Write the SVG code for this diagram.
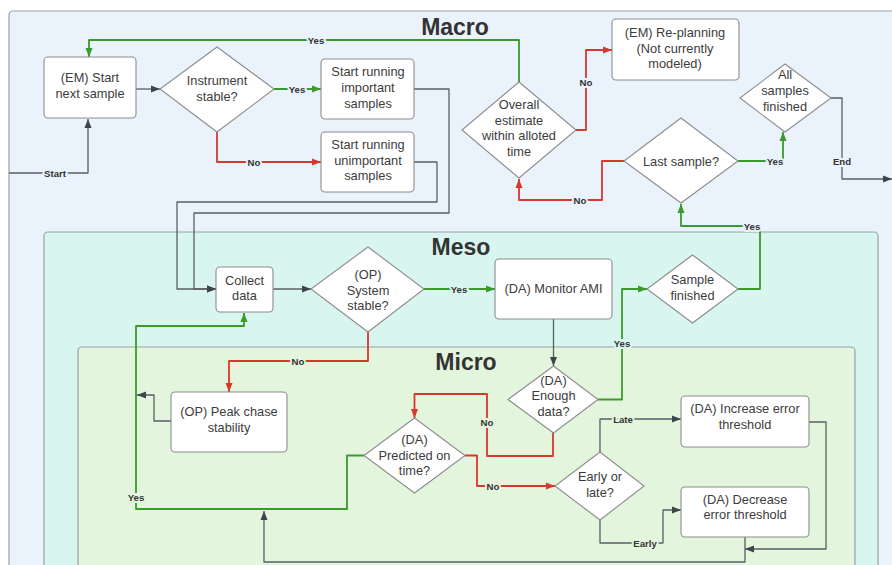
<svg xmlns="http://www.w3.org/2000/svg" width="892" height="565" viewBox="0 0 892 565">
<style>
.cont{stroke:#9aa0a6;stroke-width:1.2}
.node{fill:#fff;stroke:#8c8c8c;stroke-width:1.1}
.t{font-family:"Liberation Sans",Arial,sans-serif;font-size:12.8px;fill:#3c3c3c;text-anchor:middle}
.title{font-family:"Liberation Sans",Arial,sans-serif;font-size:23px;font-weight:bold;fill:#333;text-anchor:middle}
.c{fill:none;stroke-width:1.3;stroke-linejoin:round}
.dk{stroke:#5a5f66}
.gr{stroke:#3b9a2c;stroke-width:1.8}
.rd{stroke:#d8382c;stroke-width:1.8}
.lb{font-family:"Liberation Sans",Arial,sans-serif;font-size:9.6px;font-weight:bold;fill:#333;text-anchor:middle;dominant-baseline:central;paint-order:stroke;stroke-width:4px}
.ma{stroke:#eaf2fb}
.me{stroke:#d8f5ef}
.mi{stroke:#e3f6dd}
</style>
<defs>
<marker id="ad" markerUnits="userSpaceOnUse" markerWidth="10" markerHeight="10" viewBox="0 0 10 10" refX="9" refY="5" orient="auto"><path d="M0,1.5 L9,5 L0,8.5 Z" fill="#3f444b"/></marker>
<marker id="ag" markerUnits="userSpaceOnUse" markerWidth="10" markerHeight="10" viewBox="0 0 10 10" refX="9" refY="5" orient="auto"><path d="M0,1.5 L9,5 L0,8.5 Z" fill="#3b9a2c"/></marker>
<marker id="ar" markerUnits="userSpaceOnUse" markerWidth="10" markerHeight="10" viewBox="0 0 10 10" refX="9" refY="5" orient="auto"><path d="M0,1.5 L9,5 L0,8.5 Z" fill="#d8382c"/></marker>
</defs>
<rect width="892" height="565" fill="#ffffff"/>
<g id="macro"><rect class="cont" x="9" y="11" width="900" height="570" rx="4" fill="#eaf2fb"/><text class="title" x="455" y="35">Macro</text></g>
<g id="meso"><rect class="cont" x="44" y="232" width="834" height="350" rx="4" fill="#d8f5ef"/><text class="title" x="461" y="255">Meso</text></g>
<g id="micro"><rect class="cont" x="78" y="347" width="777" height="240" rx="4" fill="#e3f6dd"/><text class="title" x="466" y="370">Micro</text></g>

<g id="connectors">
<path class="c dk" d="M9,173 H88 V119" marker-end="url(#ad)"/>
<path class="c dk" d="M136,89 H160" marker-end="url(#ad)"/>
<path class="c gr" d="M274,89 H321" marker-end="url(#ag)"/>
<path class="c rd" d="M217,132 V162 H321" marker-end="url(#ar)"/>
<path class="c dk" d="M414,89 H449 V213 H194 V289 H216" marker-end="url(#ad)"/>
<path class="c dk" d="M414,162 H437 V202 H177 V289 H216" marker-end="url(#ad)"/>
<path class="c dk" d="M273,289 H311" marker-end="url(#ad)"/>
<path class="c gr" d="M424,289 H495" marker-end="url(#ag)"/>
<path class="c rd" d="M368,332 V361 H229 V392" marker-end="url(#ar)"/>
<path class="c dk" d="M171,421 H154 V395 H137" marker-end="url(#ad)"/>
<path class="c dk" d="M553.5,319 V366" marker-end="url(#ad)"/>
<path class="c gr" d="M598,399.5 H622 V289 H647" marker-end="url(#ag)"/>
<path class="c gr" d="M738,289 H760 V226 H681 V204" marker-end="url(#ag)"/>
<path class="c gr" d="M738,161 H783 V132" marker-end="url(#ag)"/>
<path class="c dk" d="M831,98 H842 V179 H892" marker-end="url(#ad)"/>
<path class="c rd" d="M624,161 H602 V200 H519 V179" marker-end="url(#ar)"/>
<path class="c gr" d="M519,82 V40 H89 V57" marker-end="url(#ag)"/>
<path class="c rd" d="M576,130 H586 V50 H612" marker-end="url(#ar)"/>
<path class="c rd" d="M553,433 V456 H487 V394 H414.5 V418" marker-end="url(#ar)"/>
<path class="c rd" d="M465,455.5 H477 V486 H555" marker-end="url(#ar)"/>
<path class="c dk" d="M600,452 V419 H681" marker-end="url(#ad)"/>
<path class="c dk" d="M600,520 V543 H663 V510 H681" marker-end="url(#ad)"/>
<path class="c dk" d="M809,422 H826 V549 H745" marker-end="url(#ad)"/>
<path class="c dk" d="M745,537 V562 H264 V511" marker-end="url(#ad)"/>
<path class="c gr" d="M364,455.5 H347 V509 H136 V326 H244 V313" marker-end="url(#ag)"/>
<text class="lb ma" x="55" y="173">Start</text>
<text class="lb ma" x="297" y="89">Yes</text>
<text class="lb ma" x="254" y="162">No</text>
<text class="lb me" x="459" y="289">Yes</text>
<text class="lb mi" x="298" y="361">No</text>
<text class="lb me" x="622" y="343">Yes</text>
<text class="lb ma" x="752" y="226">Yes</text>
<text class="lb ma" x="775" y="161">Yes</text>
<text class="lb ma" x="842" y="161">End</text>
<text class="lb ma" x="580" y="200">No</text>
<text class="lb ma" x="316" y="40">Yes</text>
<text class="lb ma" x="586" y="82">No</text>
<text class="lb mi" x="487" y="422">No</text>
<text class="lb mi" x="493" y="486">No</text>
<text class="lb mi" x="623" y="419">Late</text>
<text class="lb mi" x="645" y="543">Early</text>
<text class="lb mi" x="136" y="497">Yes</text>
</g>

<g id="start-next-sample"><rect class="node" x="44" y="57" width="92" height="61" rx="4"/><text class="t" x="90" y="82">(EM) Start</text><text class="t" x="90" y="97.5">next sample</text></g>
<g id="instrument-stable"><polygon class="node" points="217,47 274,89 217,132 160,89"/><text class="t" x="217" y="85">Instrument</text><text class="t" x="217" y="100.5">stable?</text></g>
<g id="important"><rect class="node" x="321" y="59" width="93" height="60" rx="4"/><text class="t" x="368" y="76">Start running</text><text class="t" x="368" y="92">important</text><text class="t" x="368" y="107.5">samples</text></g>
<g id="unimportant"><rect class="node" x="321" y="132" width="93" height="60" rx="4"/><text class="t" x="368" y="149">Start running</text><text class="t" x="368" y="164.5">unimportant</text><text class="t" x="368" y="180">samples</text></g>
<g id="overall-estimate"><polygon class="node" points="519,82 576,130 519,178 462,130"/><text class="t" x="519" y="109">Overall</text><text class="t" x="519" y="124.5">estimate</text><text class="t" x="519" y="140">within alloted</text><text class="t" x="519" y="155.5">time</text></g>
<g id="re-planning"><rect class="node" x="612" y="19" width="127" height="61" rx="4"/><text class="t" x="675" y="37">(EM) Re-planning</text><text class="t" x="675" y="52.5">(Not currently</text><text class="t" x="675" y="68">modeled)</text></g>
<g id="all-samples-finished"><polygon class="node" points="785,64 831,98 785,132 740,98"/><text class="t" x="785" y="79">All</text><text class="t" x="785" y="95">samples</text><text class="t" x="785" y="110.5">finished</text></g>
<g id="last-sample"><polygon class="node" points="681,118 738,161 681,203 624,161"/><text class="t" x="681" y="165.5">Last sample?</text></g>
<g id="collect-data"><rect class="node" x="216" y="267" width="57" height="45" rx="4"/><text class="t" x="244.5" y="285">Collect</text><text class="t" x="244.5" y="300">data</text></g>
<g id="system-stable"><polygon class="node" points="368,247 424,289 368,332 311,289"/><text class="t" x="368" y="279">(OP)</text><text class="t" x="368" y="294.5">System</text><text class="t" x="368" y="310">stable?</text></g>
<g id="monitor-ami"><rect class="node" x="495" y="259" width="117" height="60" rx="4"/><text class="t" x="553.5" y="293">(DA) Monitor AMI</text></g>
<g id="sample-finished"><polygon class="node" points="692.5,255 738,289 692.5,323 647,289"/><text class="t" x="692.5" y="284">Sample</text><text class="t" x="692.5" y="299.5">finished</text></g>
<g id="peak-chase"><rect class="node" x="171" y="392" width="116" height="60" rx="4"/><text class="t" x="229" y="416">(OP) Peak chase</text><text class="t" x="229" y="431.5">stability</text></g>
<g id="enough-data"><polygon class="node" points="553.5,366 598,399.5 553.5,433 508,399.5"/><text class="t" x="553.5" y="384.5">(DA)</text><text class="t" x="553.5" y="400">Enough</text><text class="t" x="553.5" y="415.5">data?</text></g>
<g id="predicted-on-time"><polygon class="node" points="414.5,418 465,455.5 414.5,493 364,455.5"/><text class="t" x="414.5" y="444">(DA)</text><text class="t" x="414.5" y="459.5">Predicted on</text><text class="t" x="414.5" y="475">time?</text></g>
<g id="early-or-late"><polygon class="node" points="600,452 644,486 600,520 555,486"/><text class="t" x="600" y="481">Early or</text><text class="t" x="600" y="496.5">late?</text></g>
<g id="increase-error"><rect class="node" x="681" y="396" width="128" height="51" rx="4"/><text class="t" x="745" y="413">(DA) Increase error</text><text class="t" x="745" y="428.5">threshold</text></g>
<g id="decrease-error"><rect class="node" x="681" y="487" width="128" height="50" rx="4"/><text class="t" x="745" y="503.5">(DA) Decrease</text><text class="t" x="745" y="519">error threshold</text></g>
</svg>
